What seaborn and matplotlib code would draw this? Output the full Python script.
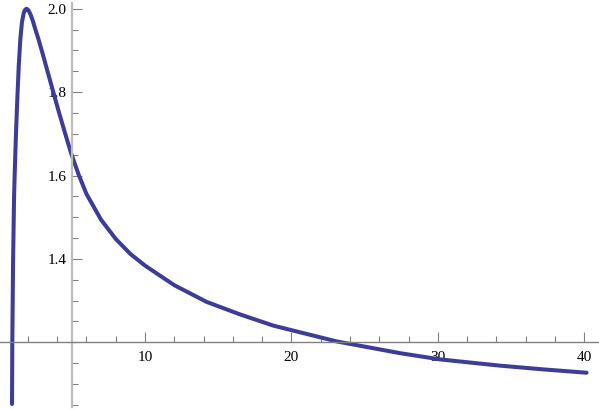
import matplotlib
matplotlib.use('Agg')
import matplotlib.pyplot as plt
import matplotlib.ticker as mticker
import pandas as pd
import seaborn as sns

# points
x_vals = [0.92, 0.94, 0.99, 1.06, 1.10, 1.19, 1.28, 1.38, 1.49, 1.60, 1.72, 1.82, 1.92,
          2.05, 2.2, 2.35, 2.5, 2.7, 2.99, 3.36, 3.74, 4.13, 4.54, 4.93, 5.45, 6.0,
          7.0, 8.0, 9.0, 10.0, 12.0, 14.2, 16.48, 18.76, 21.04, 23.1, 27.4, 30.14,
          34.23, 37.2, 40.15]
y_vals = [1.052, 1.2, 1.387, 1.548, 1.60, 1.70, 1.782, 1.863, 1.928, 1.968, 1.99, 1.998, 2.0,
          1.996, 1.985, 1.97, 1.952, 1.93, 1.895, 1.848, 1.80, 1.751, 1.702, 1.656, 1.604, 1.556,
          1.494, 1.448, 1.412, 1.384, 1.337, 1.297, 1.267, 1.240, 1.220, 1.202, 1.174, 1.159,
          1.144, 1.135, 1.127]

y_major = [1.4, 1.6, 1.8, 2.0]
x_major = [10, 20, 30, 40]

df = pd.DataFrame({'x': x_vals, 'y': y_vals})

sns.set_style('white')
plt.rcParams['font.family'] = ['Liberation Serif', 'DejaVu Serif']

fig = plt.figure(figsize=(5.99, 4.09), dpi=100)
ax = fig.add_axes([0, 0, 1, 1])
sns.lineplot(data=df, x='x', y='y', sort=False, estimator=None,
             color='#3d3d99', linewidth=2.9, ax=ax)

ax.set_xlim(0.1, 41.0)
ax.set_ylim(1.04, 2.021)
ax.set_xlabel('')
ax.set_ylabel('')

for s in ['top', 'right']:
    ax.spines[s].set_visible(False)
ax.spines['left'].set_position(('data', 5))
ax.spines['bottom'].set_position(('data', 1.2))
ax.spines['left'].set_color('#bcbcbc')
ax.spines['left'].set_linewidth(1.6)
ax.spines['left'].set_bounds(1.045, 2.015)
ax.spines['bottom'].set_color('#808080')
ax.spines['bottom'].set_linewidth(1.0)

ax.set_xticks(x_major)
ax.set_yticks(y_major)
ax.xaxis.set_minor_locator(mticker.MultipleLocator(2))
ax.yaxis.set_minor_locator(mticker.MultipleLocator(0.05))
ax.yaxis.set_major_formatter(mticker.FormatStrFormatter('%.1f'))
ax.tick_params(which='both', direction='in', bottom=True, left=True,
               colors='#808080', labelcolor='black', labelsize=11, width=0.8)
ax.tick_params(which='major', length=7)
ax.tick_params(which='minor', length=4)
ax.tick_params(axis='y', pad=4)
ax.tick_params(axis='x', pad=6)
ax.grid(False)

fig.savefig('out.png', dpi=100)
